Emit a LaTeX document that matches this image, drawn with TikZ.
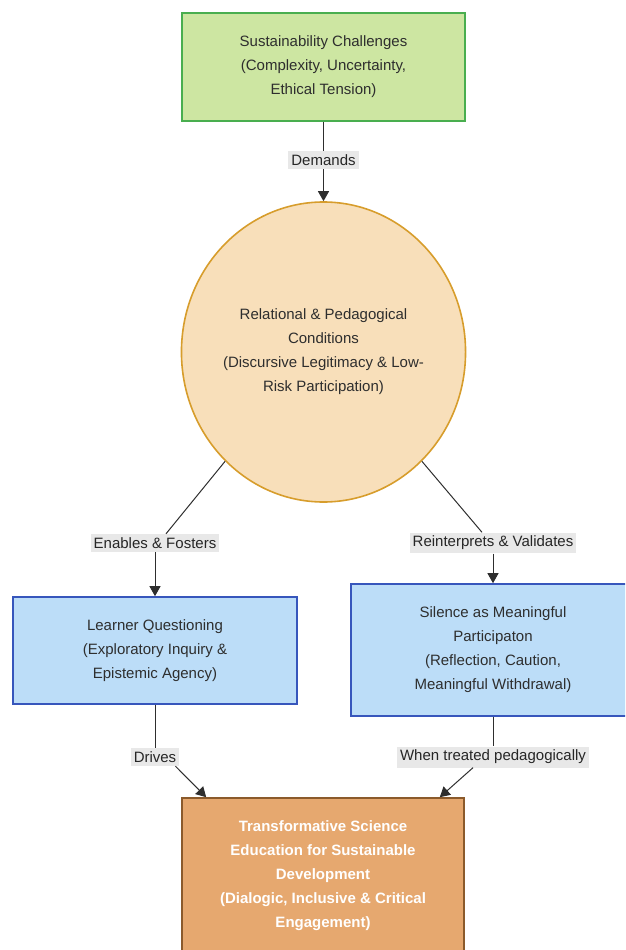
\documentclass[tikz,border=0pt]{standalone}
\usepackage{fontspec}
\setmainfont{Liberation Sans}
\usetikzlibrary{arrows.meta,shapes.geometric}
\definecolor{txt}{HTML}{2E2E2E}
\definecolor{gfill}{HTML}{CDE6A2}
\definecolor{gline}{HTML}{49AE4F}
\definecolor{cfill}{HTML}{F8DFBA}
\definecolor{cline}{HTML}{D79D2C}
\definecolor{bfill}{HTML}{BCDDF8}
\definecolor{bline}{HTML}{3756BC}
\definecolor{ofill}{HTML}{E6A86F}
\definecolor{oline}{HTML}{8B5A2B}
\definecolor{lblbg}{HTML}{E8E8E8}
\tikzset{
  every node/.style={font=\fontsize{15}{24}\selectfont, text=txt, align=center},
  boxnode/.style={rectangle, draw, line width=1.6pt, inner sep=0pt},
  lbl/.style={fill=lblbg, inner xsep=3pt, inner ysep=3.5pt, text=black!85},
  conn/.style={draw=txt, line width=1pt},
  arr/.style={conn, -{Triangle[width=11pt,length=10pt]}},
}
\begin{document}
\begin{tikzpicture}[x=1pt,y=-1pt]
\useasboundingbox (0,0) rectangle (625,950);
\begin{scope}
\clip (0,0) rectangle (625,950);
\node[boxnode, fill=gfill, draw=gline, minimum width=283pt, minimum height=108pt] (sc) at (323.5,67)
  {Sustainability Challenges\\(Complexity, Uncertainty,\\Ethical Tension)};
\node[ellipse, draw=cline, fill=cfill, line width=1.6pt, inner sep=0pt, minimum width=284pt, minimum height=300pt] (rp) at (323.5,352)
  {Relational \& Pedagogical\\Conditions\\(Discursive Legitimacy \& Low-\\Risk Participation)};
\node[boxnode, fill=bfill, draw=bline, minimum width=284pt, minimum height=107pt] (lq) at (155,650.5)
  {Learner Questioning\\(Exploratory Inquiry \&\\Epistemic Agency)};
\node[boxnode, fill=bfill, draw=bline, minimum width=284pt, minimum height=132pt] (sm) at (493,650)
  {Silence as Meaningful\\Participaton\\(Reflection, Caution,\\Meaningful Withdrawal)};
\node[boxnode, fill=ofill, draw=oline, minimum width=282pt, minimum height=156pt, text=white, font=\fontsize{15}{24}\selectfont\bfseries] (tse) at (323,876)
  {Transformative Science\\Education for Sustainable\\Development\\(Dialogic, Inclusive \& Critical\\Engagement)};

\node[lbl] (dm) at (323.5,160) {Demands};
\node[lbl] (ef) at (155,543) {Enables \& Fosters};
\node[lbl] (rv) at (493,543) {Reinterprets \& Validates};
\node[lbl] (drv) at (155,757) {Drives};
\node[lbl] (wtp) at (493,757) {When treated pedagogically};

\draw[conn] (sc.south) -- (dm.north);
\draw[arr] (dm.south) -- (rp.north);
\draw[conn] (rp.228) -- ([xshift=11pt]ef.north);
\draw[arr] (ef.south) -- (lq.north);
\draw[conn] (rp.312) -- ([xshift=-11pt]rv.north);
\draw[arr] (rv.south) -- (sm.north);
\draw[conn] (lq.south) -- (drv.north);
\draw[arr] ([xshift=-4pt]drv.south east) -- ([xshift=25pt]tse.north west);
\draw[conn] (sm.south) -- (wtp.north);
\draw[arr] ([xshift=-20pt]wtp.south) -- ([xshift=-25pt]tse.north east);
\end{scope}
\end{tikzpicture}
\end{document}
